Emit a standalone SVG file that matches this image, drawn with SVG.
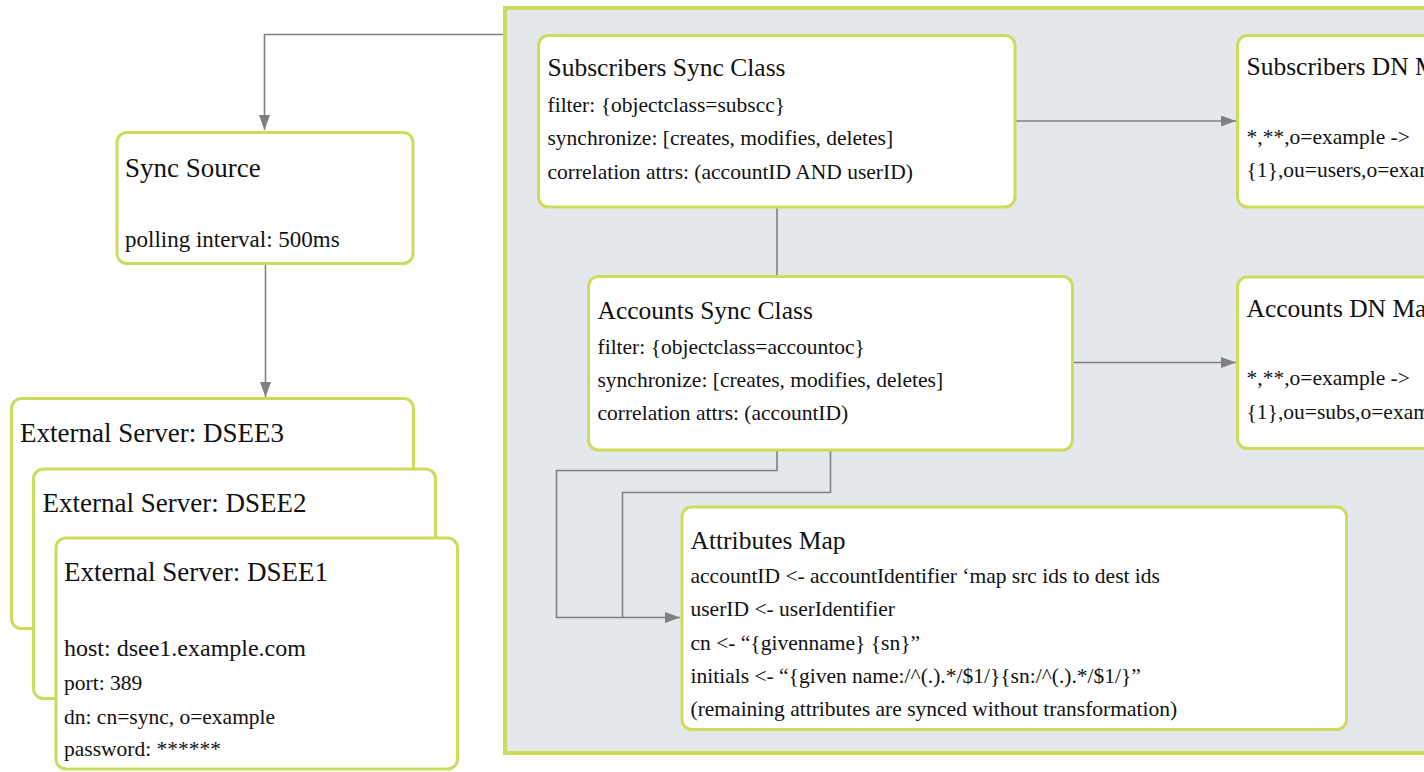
<svg xmlns="http://www.w3.org/2000/svg" width="1424" height="772" viewBox="0 0 1424 772" font-family="'Liberation Serif', serif">
<style>
.box{fill:#ffffff;stroke:#cddc5c;stroke-width:3}
.cont{fill:#e4e7eb;stroke:#cddc5c;stroke-width:4}
text{fill:#111111}
.t27{font-size:27px}
.t25{font-size:25.5px}
.b{font-size:21.5px}
.b23{font-size:23px}
.b24{font-size:24px}
.conn{fill:none;stroke:#808080;stroke-width:1.6}
</style>
<defs>
<marker id="arr" markerWidth="15" markerHeight="11" refX="15" refY="5.5" orient="auto" markerUnits="userSpaceOnUse">
<path d="M0,0 L15,5.5 L0,11 Z" fill="#808080"/>
</marker>
</defs>
<g id="container">
<rect class="cont" x="505" y="8" width="930" height="745"/>
</g>
<g id="connectors">
<path class="conn" d="M503,34.5 H264.5 V130" marker-end="url(#arr)"/>
<path class="conn" d="M265.5,263 V397" marker-end="url(#arr)"/>
<path class="conn" d="M1015,121 H1236" marker-end="url(#arr)"/>
<path class="conn" d="M1072,362.5 H1236" marker-end="url(#arr)"/>
<path class="conn" d="M777,207 V276"/>
<path class="conn" d="M777,450 V470.5 H556.5 V617.5 H680" marker-end="url(#arr)"/>
<path class="conn" d="M830.5,450 V492.5 H622.5 V617.5"/>
</g>
<g id="sync-source">
<rect class="box" x="117" y="132.5" width="296" height="131" rx="10"/>
<text class="t27" x="125" y="177">Sync Source</text>
<text class="b23" x="125" y="247">polling interval: 500ms</text>
</g>
<g id="dsee3">
<rect class="box" x="11.5" y="398.5" width="402" height="230" rx="10"/>
<text class="t27" x="20" y="442">External Server: DSEE3</text>
</g>
<g id="dsee2">
<rect class="box" x="33.5" y="469" width="402" height="229.5" rx="10"/>
<text class="t27" x="42.5" y="512">External Server: DSEE2</text>
</g>
<g id="dsee1">
<rect class="box" x="56" y="538" width="401.5" height="231" rx="10"/>
<text class="t27" x="64" y="581">External Server: DSEE1</text>
<text class="b24" x="64" y="656">host: dsee1.example.com</text>
<text class="b" x="64" y="690">port: 389</text>
<text class="b" x="64" y="724">dn: cn=sync, o=example</text>
<text class="b" x="64" y="756">password: ******</text>
</g>
<g id="subscribers-sync-class">
<rect class="box" x="538.5" y="35.5" width="476.5" height="171.5" rx="10"/>
<text class="t25" x="547.5" y="76">Subscribers Sync Class</text>
<text class="b" x="547.5" y="112">filter: {objectclass=subscc}</text>
<text class="b" x="547.5" y="145">synchronize: [creates, modifies, deletes]</text>
<text class="b" x="547.5" y="178.5">correlation attrs: (accountID AND userID)</text>
</g>
<g id="subscribers-dn-map">
<rect class="box" x="1237.5" y="35.5" width="250" height="171.5" rx="10"/>
<text class="t25" x="1246.5" y="75">Subscribers DN Map</text>
<text class="b" x="1246.5" y="143.5">*,**,o=example -&gt;</text>
<text class="b" x="1246.5" y="177">{1},ou=users,o=example</text>
</g>
<g id="accounts-sync-class">
<rect class="box" x="588.5" y="276.5" width="484" height="173.5" rx="10"/>
<text class="t25" x="597.5" y="318.5">Accounts Sync Class</text>
<text class="b" x="597.5" y="353.5">filter: {objectclass=accountoc}</text>
<text class="b" x="597.5" y="387">synchronize: [creates, modifies, deletes]</text>
<text class="b" x="597.5" y="419.5">correlation attrs: (accountID)</text>
</g>
<g id="accounts-dn-map">
<rect class="box" x="1237.5" y="277" width="250" height="171.5" rx="10"/>
<text class="t25" x="1246.5" y="317">Accounts DN Map</text>
<text class="b" x="1246.5" y="385">*,**,o=example -&gt;</text>
<text class="b" x="1246.5" y="418.5">{1},ou=subs,o=example</text>
</g>
<g id="attributes-map">
<rect class="box" x="682" y="507" width="664.5" height="222.5" rx="10"/>
<text class="t25" x="690.5" y="548.5">Attributes Map</text>
<text class="b" x="690.5" y="583">accountID &lt;- accountIdentifier ‘map src ids to dest ids</text>
<text class="b" x="690.5" y="616">userID &lt;- userIdentifier</text>
<text class="b" x="690.5" y="649.5">cn &lt;- “{givenname} {sn}”</text>
<text class="b" x="690.5" y="683">initials &lt;- “{given name:/^(.).*/$1/}{sn:/^(.).*/$1/}”</text>
<text class="b" x="690.5" y="715.5">(remaining attributes are synced without transformation)</text>
</g>
</svg>
